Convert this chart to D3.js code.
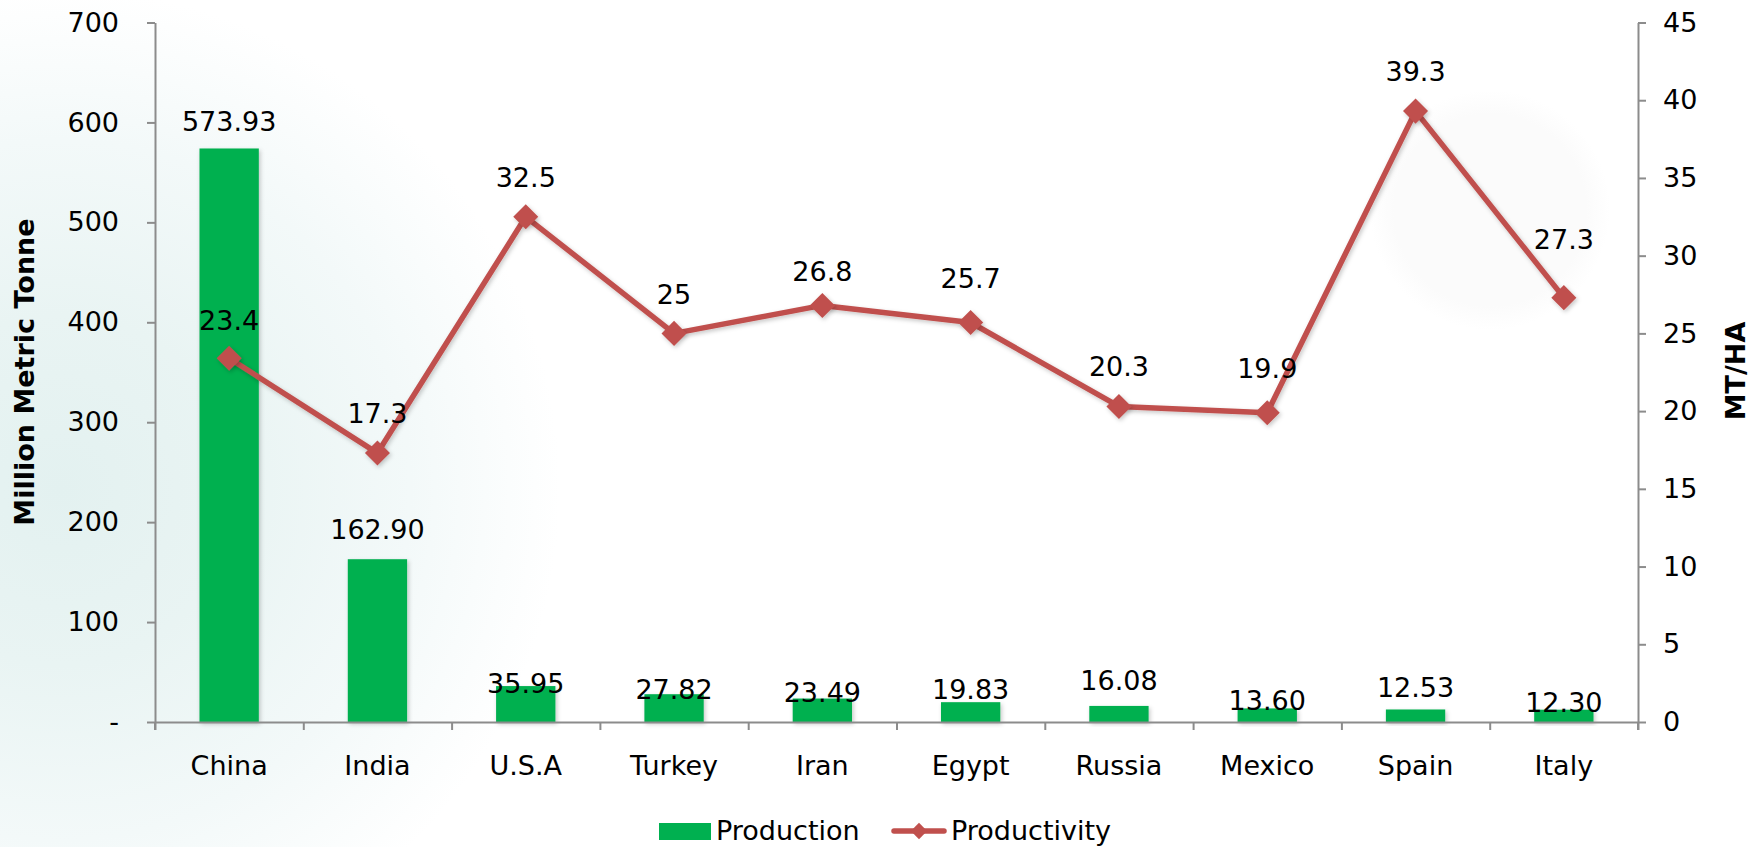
<!DOCTYPE html>
<html>
<head>
<meta charset="utf-8">
<script src="https://cdn.jsdelivr.net/npm/d3@7/dist/d3.min.js"></script>
<style>
  html, body { margin: 0; padding: 0; background: #fff; }
  svg { display: block; font-family: "DejaVu Sans", Verdana, sans-serif; }
</style>
</head>
<body>
<svg id="chart" width="1760" height="847"></svg>
<script>
// ---- data ----
const categories = ["China", "India", "U.S.A", "Turkey", "Iran", "Egypt", "Russia", "Mexico", "Spain", "Italy"];
const production = [573.93, 162.90, 35.95, 27.82, 23.49, 19.83, 16.08, 13.60, 12.53, 12.30];
const productivity = [23.4, 17.3, 32.5, 25, 26.8, 25.7, 20.3, 19.9, 39.3, 27.3];
const leftTicks = [0, 100, 200, 300, 400, 500, 600, 700];
const rightTicks = [0, 5, 10, 15, 20, 25, 30, 35, 40, 45];
const seriesNames = ["Production", "Productivity"];

// ---- layout (label nudges, px) ----
const barLabelLift = [27, 30, 3, 5, 6, 13, 26, 8, 22, 7];
const lineLabelLift = [38, 40, 40, 39, 34, 44, 40, 44, 40, 58];

const W = 1760, H = 847;
const plot = { left: 155, right: 1638, top: 22.5, bottom: 722 };
const GREEN = "#00B050", RED = "#C0504D", AXIS = "#8c8c8c";
const FS = 27;

const svg = d3.select("#chart");
const defs = svg.append("defs");

// background gradients
const g1 = defs.append("radialGradient").attr("id", "bgLeft")
  .attr("gradientUnits", "userSpaceOnUse").attr("cx", 60).attr("cy", 490).attr("r", 500);
[[0, "#e3f1f0"], [0.35, "#e9f4f3"], [0.7, "#f3f9f9"], [1, "#ffffff"]].forEach(([o, c]) =>
  g1.append("stop").attr("offset", o).attr("stop-color", c));
const g2 = defs.append("radialGradient").attr("id", "bgRight")
  .attr("gradientUnits", "userSpaceOnUse").attr("cx", 1490).attr("cy", 210).attr("r", 120);
[[0, "#fbfbfb"], [0.8, "#fbfbfb"], [1, "#ffffff"]].forEach(([o, c]) =>
  g2.append("stop").attr("offset", o).attr("stop-color", c));

const shadow = defs.append("filter").attr("id", "shadow").attr("x", "-30%").attr("y", "-30%").attr("width", "160%").attr("height", "160%");
shadow.append("feDropShadow").attr("dx", 1.5).attr("dy", 2).attr("stdDeviation", 2).attr("flood-color", "#000").attr("flood-opacity", 0.22);

svg.append("rect").attr("width", W).attr("height", H).attr("fill", "#fff");
svg.append("rect").attr("width", W).attr("height", H).attr("fill", "url(#bgLeft)");
svg.append("circle").attr("cx", 1490).attr("cy", 210).attr("r", 120).attr("fill", "url(#bgRight)");

// scales
const x = d3.scaleBand().domain(categories).range([plot.left, plot.right]).paddingInner(0.6).paddingOuter(0.3);
const xEdge = d3.scaleLinear().domain([0, categories.length]).range([plot.left, plot.right]);
const yL = d3.scaleLinear().domain([0, 700]).range([plot.bottom, plot.top]);
const yR = d3.scaleLinear().domain([0, 45]).range([plot.bottom, plot.top]);
const cx = c => x(c) + x.bandwidth() / 2;

// bars
svg.append("g").selectAll("rect").data(categories).join("rect")
  .attr("x", d => x(d)).attr("width", x.bandwidth())
  .attr("y", (d, i) => yL(production[i]))
  .attr("height", (d, i) => yL(0) - yL(production[i]))
  .attr("fill", GREEN).attr("filter", "url(#shadow)");

// axes
function styleAxis(g) {
  g.select(".domain").attr("stroke", AXIS).attr("stroke-width", 2);
  g.selectAll(".tick line").attr("stroke", AXIS).attr("stroke-width", 2);
  g.selectAll("text").attr("font-size", FS).attr("fill", "#000").attr("font-family", "DejaVu Sans, Verdana, sans-serif");
}
const axL = svg.append("g").attr("transform", `translate(${plot.left},0)`)
  .call(d3.axisLeft(yL).tickValues(leftTicks).tickSize(8).tickPadding(28).tickSizeOuter(0)
    .tickFormat(v => v === 0 ? "-" : d3.format("d")(v)));
styleAxis(axL);
const axR = svg.append("g").attr("transform", `translate(${plot.right},0)`)
  .call(d3.axisRight(yR).tickValues(rightTicks).tickSize(8).tickPadding(17).tickSizeOuter(0));
styleAxis(axR);
const axEdges = svg.append("g").attr("transform", `translate(0,${plot.bottom})`)
  .call(d3.axisBottom(xEdge).ticks(categories.length).tickSize(8).tickSizeOuter(0).tickFormat(""));
styleAxis(axEdges);
const axCat = svg.append("g").attr("transform", `translate(0,${plot.bottom})`)
  .call(d3.axisBottom(x).tickSize(0).tickPadding(34));
axCat.select(".domain").remove();
styleAxis(axCat);
axCat.selectAll("text").attr("dy", "0.71em");
[plot.left, plot.right].forEach(px =>
  svg.append("line").attr("x1", px).attr("x2", px).attr("y1", plot.bottom).attr("y2", plot.bottom + 8)
    .attr("stroke", AXIS).attr("stroke-width", 2));

// line
const line = d3.line().x((d, i) => cx(categories[i])).y(d => yR(d));
svg.append("path").datum(productivity).attr("d", line)
  .attr("fill", "none").attr("stroke", RED).attr("stroke-width", 5.5).attr("stroke-linejoin", "round")
  .attr("filter", "url(#shadow)");
const diamond = d3.symbol().type(d3.symbolDiamond2 || d3.symbolDiamond).size(400);
svg.append("g").selectAll("path").data(productivity).join("path")
  .attr("transform", (d, i) => `translate(${cx(categories[i])},${yR(d)})`)
  .attr("d", diamond).attr("fill", RED).attr("filter", "url(#shadow)");

// data labels
svg.append("g").selectAll("text").data(production).join("text")
  .attr("x", (d, i) => cx(categories[i]))
  .attr("y", (d, i) => yL(d) - barLabelLift[i])
  .attr("dy", "0.36em").attr("text-anchor", "middle").attr("font-size", FS).attr("fill", "#000")
  .text(d => d3.format(".2f")(d));
svg.append("g").selectAll("text").data(productivity).join("text")
  .attr("x", (d, i) => cx(categories[i]))
  .attr("y", (d, i) => yR(d) - lineLabelLift[i])
  .attr("dy", "0.36em").attr("text-anchor", "middle").attr("font-size", FS).attr("fill", "#000")
  .text(d => String(d));

// axis titles
svg.append("text").attr("transform", `translate(34,372) rotate(-90)`)
  .attr("text-anchor", "middle").attr("font-size", FS).attr("font-weight", "bold").text("Million Metric Tonne");
svg.append("text").attr("transform", `translate(1745,371) rotate(-90)`)
  .attr("text-anchor", "middle").attr("font-size", FS).attr("font-weight", "bold").text("MT/HA");

// legend
const lg = svg.append("g");
lg.append("rect").attr("x", 659).attr("y", 823).attr("width", 52).attr("height", 17).attr("fill", GREEN);
lg.append("text").attr("x", 716).attr("y", 840).attr("font-size", FS).text(seriesNames[0]);
lg.append("line").attr("x1", 894).attr("x2", 944).attr("y1", 831).attr("y2", 831)
  .attr("stroke", RED).attr("stroke-width", 5.5).attr("stroke-linecap", "round");
lg.append("path").attr("transform", "translate(919,831)").attr("d", d3.symbol().type(d3.symbolDiamond2 || d3.symbolDiamond).size(170)).attr("fill", RED);
lg.append("text").attr("x", 951).attr("y", 840).attr("font-size", FS).text(seriesNames[1]);
</script>
</body>
</html>
